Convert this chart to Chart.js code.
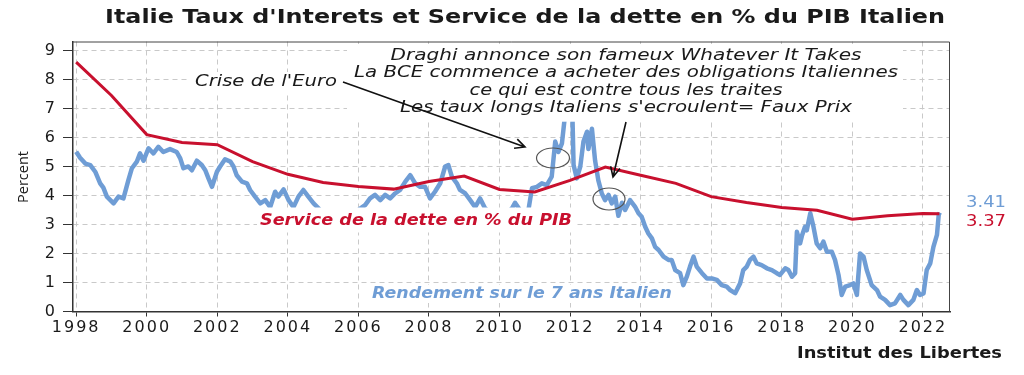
<!DOCTYPE html>
<html>
<head>
<meta charset="utf-8">
<script src="https://cdn.jsdelivr.net/npm/chart.js@4.4.0/dist/chart.umd.min.js"></script>
<style>
  html, body { margin: 0; padding: 0; background: #fff; }
  canvas { display: block; }
</style>
</head>
<body>
<canvas id="chart" width="1024" height="375"></canvas>
<script>
// ─── DONNEES ─────────────────────────────────────────────────────────────────

// Service de la dette en % du PIB (annuel)
const serviceYears  = [1998, 1999, 2000, 2001, 2002, 2003, 2004, 2005, 2006, 2007, 2008, 2009, 2010,
                       2011, 2012, 2013, 2014, 2015, 2016, 2017, 2018, 2019, 2020, 2021, 2022, 2022.47];
const serviceValues = [8.60, 7.45, 6.10, 5.83, 5.75, 5.17, 4.73, 4.45, 4.31, 4.22, 4.48, 4.67, 4.21,
                       4.12, 4.52, 4.98, 4.70, 4.42, 3.96, 3.76, 3.59, 3.49, 3.18, 3.30, 3.38, 3.37];

// Rendement du 7 ans italien
const rendYears = [
  1998.00, 1998.11, 1998.26, 1998.40, 1998.54, 1998.68, 1998.77, 1998.87, 1999.06, 1999.20,
  1999.34, 1999.48, 1999.58, 1999.72, 1999.81, 1999.91, 2000.05, 2000.19, 2000.33, 2000.47,
  2000.66, 2000.85, 2000.95, 2001.04, 2001.18, 2001.28, 2001.42, 2001.56, 2001.66, 2001.75,
  2001.85, 2001.99, 2002.08, 2002.22, 2002.37, 2002.46, 2002.55, 2002.70, 2002.84, 2002.93,
  2003.07, 2003.22, 2003.36, 2003.50, 2003.64, 2003.73, 2003.88, 2004.02, 2004.16, 2004.30,
  2004.44, 2004.58, 2004.73, 2004.87, 2005.00, 2005.30, 2005.60, 2005.90, 2006.05, 2006.19,
  2006.33, 2006.47, 2006.62, 2006.76, 2006.90, 2007.04, 2007.18, 2007.33, 2007.47, 2007.61,
  2007.75, 2007.89, 2008.03, 2008.17, 2008.32, 2008.46, 2008.55, 2008.65, 2008.79, 2008.88,
  2009.03, 2009.17, 2009.31, 2009.45, 2009.59, 2009.75, 2009.95, 2010.15, 2010.35, 2010.44,
  2010.58, 2010.70, 2010.82, 2010.92, 2011.06, 2011.20, 2011.34, 2011.48, 2011.58, 2011.67,
  2011.77, 2011.86, 2011.91, 2012.00, 2012.07, 2012.10, 2012.19, 2012.29, 2012.38, 2012.48,
  2012.52, 2012.62, 2012.66, 2012.71, 2012.80, 2012.90, 2012.99, 2013.09, 2013.18, 2013.28,
  2013.37, 2013.47, 2013.56, 2013.70, 2013.84, 2013.94, 2014.03, 2014.13, 2014.22, 2014.32,
  2014.41, 2014.51, 2014.65, 2014.79, 2014.88, 2014.98, 2015.12, 2015.21, 2015.31, 2015.40,
  2015.50, 2015.59, 2015.74, 2015.88, 2016.02, 2016.16, 2016.30, 2016.44, 2016.54, 2016.68,
  2016.82, 2016.91, 2017.01, 2017.10, 2017.20, 2017.29, 2017.43, 2017.58, 2017.72, 2017.86,
  2017.95, 2018.10, 2018.19, 2018.29, 2018.38, 2018.43, 2018.52, 2018.57, 2018.66, 2018.71,
  2018.81, 2018.90, 2018.99, 2019.09, 2019.18, 2019.28, 2019.42, 2019.51, 2019.61, 2019.70,
  2019.80, 2019.94, 2020.03, 2020.13, 2020.22, 2020.32, 2020.41, 2020.55, 2020.70, 2020.79,
  2020.93, 2021.07, 2021.21, 2021.36, 2021.45, 2021.59, 2021.73, 2021.83, 2021.92, 2022.02,
  2022.11, 2022.21, 2022.30, 2022.40, 2022.45, 2022.48
];
const rendValues = [
  5.51, 5.30, 5.10, 5.05, 4.82, 4.42, 4.27, 3.96, 3.73, 3.96,
  3.90, 4.53, 4.94, 5.17, 5.45, 5.20, 5.63, 5.45, 5.68, 5.50,
  5.60, 5.50, 5.28, 4.94, 5.00, 4.87, 5.20, 5.05, 4.87, 4.59,
  4.30, 4.82, 5.00, 5.25, 5.17, 5.00, 4.70, 4.48, 4.42, 4.19,
  3.96, 3.73, 3.84, 3.60, 4.13, 3.96, 4.21, 3.84, 3.60, 3.96,
  4.19, 3.96, 3.73, 3.56, 3.30, 3.10, 3.20, 3.40, 3.55, 3.67,
  3.90, 4.02, 3.84, 4.02, 3.90, 4.07, 4.19, 4.48, 4.70, 4.42,
  4.30, 4.30, 3.90, 4.13, 4.42, 5.00, 5.05, 4.65, 4.42, 4.19,
  4.07, 3.84, 3.60, 3.90, 3.56, 3.40, 3.45, 3.35, 3.55, 3.75,
  3.50, 3.40, 3.50, 4.25, 4.30, 4.42, 4.36, 4.65, 5.86, 5.50,
  5.80, 6.80, 7.40, 7.00, 6.60, 5.05, 4.59, 5.00, 5.86, 6.20,
  5.60, 6.30, 5.80, 5.20, 4.53, 4.07, 3.84, 4.02, 3.73, 3.96,
  3.30, 3.75, 3.50, 3.84, 3.62, 3.39, 3.27, 2.92, 2.69, 2.52,
  2.23, 2.12, 1.89, 1.78, 1.78, 1.43, 1.32, 0.91, 1.20, 1.55,
  1.89, 1.55, 1.32, 1.14, 1.14, 1.09, 0.91, 0.86, 0.74, 0.63,
  0.97, 1.43, 1.55, 1.78, 1.89, 1.66, 1.60, 1.49, 1.43, 1.32,
  1.26, 1.49, 1.43, 1.20, 1.32, 2.75, 2.35, 2.60, 2.92, 2.80,
  3.39, 2.92, 2.35, 2.18, 2.41, 2.06, 2.06, 1.78, 1.26, 0.57,
  0.86, 0.91, 0.97, 0.57, 2.00, 1.89, 1.43, 0.91, 0.74, 0.51,
  0.40, 0.22, 0.28, 0.57, 0.40, 0.22, 0.40, 0.74, 0.57, 0.62,
  1.43, 1.66, 2.23, 2.64, 3.33, 3.41
];

const xTicks = [1998, 2000, 2002, 2004, 2006, 2008, 2010, 2012, 2014, 2016, 2018, 2020, 2022];
const yTicks = [0, 1, 2, 3, 4, 5, 6, 7, 8, 9];

const lastRend    = '3.41';
const lastService = '3.37';

// ─── STYLE ───────────────────────────────────────────────────────────────────

const RED  = '#c8102e';
const BLUE = '#6f9dd5';
const GRID = '#c9c9c9';
const INK  = '#1a1a1a';

// texte étiré horizontalement pour coller à une largeur donnée
function fitText(ctx, text, cx, cy, width, font, color, align = 'center') {
  ctx.save();
  ctx.font = font;
  ctx.fillStyle = color;
  ctx.textBaseline = 'middle';
  const w = ctx.measureText(text).width;
  const sx = width / w;
  let x0 = cx;
  if (align === 'center') x0 = cx - width / 2;
  if (align === 'right')  x0 = cx - width;
  ctx.translate(x0, cy);
  ctx.scale(sx, 1);
  ctx.textAlign = 'left';
  ctx.fillText(text, 0, 0);
  ctx.restore();
}

function arrow(ctx, x1, y1, x2, y2) {
  const a = Math.atan2(y2 - y1, x2 - x1);
  const len = 11, spread = 0.45;
  ctx.beginPath();
  ctx.moveTo(x1, y1);
  ctx.lineTo(x2, y2);
  ctx.moveTo(x2 - len * Math.cos(a - spread), y2 - len * Math.sin(a - spread));
  ctx.lineTo(x2, y2);
  ctx.lineTo(x2 - len * Math.cos(a + spread), y2 - len * Math.sin(a + spread));
  ctx.stroke();
}

// graduations un peu plus larges, comme dans l'original
const textSpacing = {
  id: 'textSpacing',
  beforeDraw(chart) { chart.ctx.letterSpacing = '2px'; },
  afterDatasetsDraw(chart) { chart.ctx.letterSpacing = '0px'; }
};

const decor = {
  id: 'decor',
  afterDatasetsDraw(chart) {
    const ctx = chart.ctx;
    const { left, right, top, bottom } = chart.chartArea;

    // cadre haut / droite
    ctx.save();
    ctx.strokeStyle = '#444';
    ctx.lineWidth = 1;
    ctx.beginPath();
    ctx.moveTo(left, top + 0.5);
    ctx.lineTo(right - 0.5, top + 0.5);
    ctx.lineTo(right - 0.5, bottom);
    ctx.stroke();

    // fonds blancs des zones de texte
    ctx.fillStyle = '#fff';
    ctx.fillRect(347, 44, 556, 77.7);
    ctx.fillRect(190, 72, 157, 21);
    ctx.fillRect(257, 207.5, 319, 25);
    ctx.fillRect(368, 285, 308, 18);

    const it  = 'italic 15px "DejaVu Sans"';
    const bit = 'italic bold 15px "DejaVu Sans"';
    fitText(ctx, 'Draghi annonce son fameux Whatever It Takes', 626, 56, 471, it, INK);
    fitText(ctx, 'La BCE commence a acheter des obligations Italiennes', 626, 73.5, 544, it, INK);
    fitText(ctx, 'ce qui est contre tous les traites', 626, 91, 313, it, INK);
    fitText(ctx, "Les taux longs Italiens s'ecroulent= Faux Prix", 626, 108.5, 452, it, INK);
    fitText(ctx, "Crise de l'Euro", 266, 82, 142, it, INK);
    fitText(ctx, 'Service de la dette en % du PIB', 416, 221, 312, bit, RED);
    fitText(ctx, 'Rendement sur le 7 ans Italien', 522, 294, 300, bit, BLUE);

    // flèches et ellipses
    ctx.strokeStyle = '#111';
    ctx.lineWidth = 1.6;
    arrow(ctx, 343, 82, 525, 147);
    arrow(ctx, 626, 122, 613, 177);

    ctx.strokeStyle = '#555';
    ctx.lineWidth = 1.2;
    ctx.beginPath();
    ctx.ellipse(553, 158, 16.5, 10, 0, 0, Math.PI * 2);
    ctx.stroke();
    ctx.beginPath();
    ctx.ellipse(609, 199, 16, 11, 0, 0, Math.PI * 2);
    ctx.stroke();
    ctx.restore();
  },
  afterDraw(chart) {
    const ctx = chart.ctx;
    ctx.save();
    fitText(ctx, "Italie Taux d'Interets et Service de la dette en % du PIB Italien", 525, 18, 840,
            'bold 19px "DejaVu Sans"', INK);
    fitText(ctx, lastRend, 986, 203, 40, '16px "DejaVu Sans"', BLUE);
    fitText(ctx, lastService, 986, 222, 40, '16px "DejaVu Sans"', RED);
    fitText(ctx, 'Institut des Libertes', 1002, 354, 205, 'bold 15px "DejaVu Sans"', INK, 'right');

    ctx.translate(24, 177);
    ctx.rotate(-Math.PI / 2);
    fitText(ctx, 'Percent', 0, 0, 52, '15px "Open Sans"', INK);
    ctx.restore();
  }
};

// ─── GRAPHIQUE ───────────────────────────────────────────────────────────────

const toPoints = (xs, ys) => xs.map((x, i) => ({ x, y: ys[i] }));

new Chart(document.getElementById('chart'), {
  type: 'line',
  data: {
    datasets: [
      {
        label: 'Service de la dette en % du PIB',
        data: toPoints(serviceYears, serviceValues),
        borderColor: RED,
        borderWidth: 3,
        pointRadius: 0,
        tension: 0
      },
      {
        label: 'Rendement sur le 7 ans Italien',
        data: toPoints(rendYears, rendValues),
        borderColor: BLUE,
        borderWidth: 4.5,
        borderJoinStyle: 'round',
        pointRadius: 0,
        tension: 0
      }
    ]
  },
  options: {
    responsive: false,
    animation: false,
    layout: { padding: { top: 41.5, right: 74, left: 0, bottom: 0 } },
    plugins: { legend: { display: false }, tooltip: { enabled: false } },
    scales: {
      x: {
        type: 'linear',
        min: 1997.91,
        max: 2022.77,
        afterBuildTicks: s => { s.ticks = xTicks.map(v => ({ value: v })); },
        afterFit: s => { s.height = 63.5; },
        ticks: {
          color: INK, padding: 2, maxRotation: 0,
          font: { family: 'DejaVu Sans', size: 16 },
          callback: v => String(v)
        },
        grid: { color: GRID, tickColor: '#333', tickLength: 5 },
        border: { color: '#333', width: 1.5, dash: [5, 4] }
      },
      y: {
        min: 0,
        max: 9.31,
        afterBuildTicks: s => { s.ticks = yTicks.map(v => ({ value: v })); },
        afterFit: s => { s.width = 73; },
        ticks: { color: INK, padding: 6, font: { family: 'DejaVu Sans', size: 16 }, callback: v => String(v) },
        grid: { color: GRID, tickColor: '#333', tickLength: 10 },
        border: { color: '#333', width: 1.5, dash: [5, 4] }
      }
    }
  },
  plugins: [textSpacing, decor]
});
</script>
</body>
</html>
